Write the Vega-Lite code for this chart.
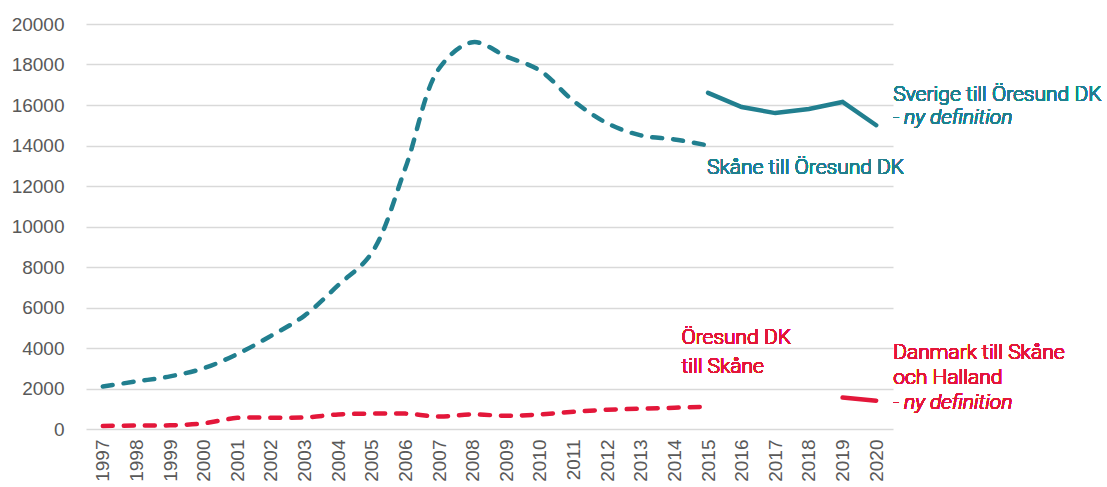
{
  "$schema": "https://vega.github.io/schema/vega-lite/v6.json",
  "width": 807,
  "height": 405,
  "autosize": {"type": "none"},
  "padding": {"left": 86, "top": 24, "right": 214, "bottom": 58},
  "background": "white",
  "config": {
    "view": {"stroke": null},
    "axis": {"labelFont": "Liberation Sans", "labelColor": "#595959", "labelFontSize": 19, "domain": false, "ticks": false, "title": null},
    "text": {"font": "Roboto", "fontSize": 21, "fontWeight": 300, "align": "left", "baseline": "middle"}
  },
  "data": {
    "values": [
      {"year": 1997, "value": 2100, "series": "skane_dk"},
      {"year": 1998, "value": 2350, "series": "skane_dk"},
      {"year": 1999, "value": 2600, "series": "skane_dk"},
      {"year": 2000, "value": 3000, "series": "skane_dk"},
      {"year": 2001, "value": 3700, "series": "skane_dk"},
      {"year": 2002, "value": 4600, "series": "skane_dk"},
      {"year": 2003, "value": 5600, "series": "skane_dk"},
      {"year": 2004, "value": 7100, "series": "skane_dk"},
      {"year": 2005, "value": 8700, "series": "skane_dk"},
      {"year": 2006, "value": 12900, "series": "skane_dk"},
      {"year": 2007, "value": 17800, "series": "skane_dk"},
      {"year": 2008, "value": 19100, "series": "skane_dk"},
      {"year": 2009, "value": 18400, "series": "skane_dk"},
      {"year": 2010, "value": 17700, "series": "skane_dk"},
      {"year": 2011, "value": 16200, "series": "skane_dk"},
      {"year": 2012, "value": 15100, "series": "skane_dk"},
      {"year": 2013, "value": 14500, "series": "skane_dk"},
      {"year": 2014, "value": 14300, "series": "skane_dk"},
      {"year": 2015, "value": 14000, "series": "skane_dk"},
      {"year": 2015, "value": 16600, "series": "sverige_dk"},
      {"year": 2016, "value": 15900, "series": "sverige_dk"},
      {"year": 2017, "value": 15600, "series": "sverige_dk"},
      {"year": 2018, "value": 15800, "series": "sverige_dk"},
      {"year": 2019, "value": 16150, "series": "sverige_dk"},
      {"year": 2020, "value": 15000, "series": "sverige_dk"},
      {"year": 1997, "value": 150, "series": "dk_skane"},
      {"year": 1998, "value": 170, "series": "dk_skane"},
      {"year": 1999, "value": 180, "series": "dk_skane"},
      {"year": 2000, "value": 280, "series": "dk_skane"},
      {"year": 2001, "value": 550, "series": "dk_skane"},
      {"year": 2002, "value": 560, "series": "dk_skane"},
      {"year": 2003, "value": 570, "series": "dk_skane"},
      {"year": 2004, "value": 720, "series": "dk_skane"},
      {"year": 2005, "value": 760, "series": "dk_skane"},
      {"year": 2006, "value": 760, "series": "dk_skane"},
      {"year": 2007, "value": 620, "series": "dk_skane"},
      {"year": 2008, "value": 720, "series": "dk_skane"},
      {"year": 2009, "value": 650, "series": "dk_skane"},
      {"year": 2010, "value": 720, "series": "dk_skane"},
      {"year": 2011, "value": 850, "series": "dk_skane"},
      {"year": 2012, "value": 950, "series": "dk_skane"},
      {"year": 2013, "value": 1000, "series": "dk_skane"},
      {"year": 2014, "value": 1050, "series": "dk_skane"},
      {"year": 2015, "value": 1100, "series": "dk_skane"},
      {"year": 2019, "value": 1550, "series": "dk_skane_halland"},
      {"year": 2020, "value": 1400, "series": "dk_skane_halland"}
    ]
  },
  "encoding": {
    "x": {
      "field": "year", "type": "ordinal",
      "scale": {"domain": [1997,1998,1999,2000,2001,2002,2003,2004,2005,2006,2007,2008,2009,2010,2011,2012,2013,2014,2015,2016,2017,2018,2019,2020]},
      "axis": {"labelAngle": -90, "labelPadding": 10, "grid": false}
    },
    "y": {
      "field": "value", "type": "quantitative",
      "scale": {"domain": [0, 20000]},
      "axis": {"values": [0,2000,4000,6000,8000,10000,12000,14000,16000,18000,20000], "format": "d", "labelPadding": 22, "gridColor": "#d9d9d9", "gridWidth": 1.5}
    }
  },
  "layer": [
    {
      "transform": [{"filter": "datum.series === 'skane_dk' || datum.series === 'dk_skane'"}],
      "mark": {"type": "line", "interpolate": "catmull-rom", "strokeWidth": 4.5, "strokeDash": [10, 11], "strokeCap": "round"},
      "encoding": {
        "color": {"field": "series", "type": "nominal", "scale": {"domain": ["skane_dk", "sverige_dk", "dk_skane", "dk_skane_halland"], "range": ["#217f8f", "#217f8f", "#e3173a", "#e3173a"]}, "legend": null}
      }
    },
    {
      "transform": [{"filter": "datum.series === 'sverige_dk' || datum.series === 'dk_skane_halland'"}],
      "mark": {"type": "line", "strokeWidth": 4.5, "strokeCap": "round"},
      "encoding": {
        "color": {"field": "series", "type": "nominal", "legend": null}
      }
    },
    {
      "mark": {"type": "text", "text": "Sverige till Öresund DK", "dx": 17, "color": "#217f8f"},
      "encoding": {"x": {"datum": 2020}, "y": {"datum": 16494}}
    },
    {
      "mark": {"type": "text", "text": "- ny definition", "dx": 17, "fontStyle": "italic", "color": "#217f8f"},
      "encoding": {"x": {"datum": 2020}, "y": {"datum": 15358}}
    },
    {
      "mark": {"type": "text", "text": "Skåne till Öresund DK", "dx": -1, "color": "#217f8f"},
      "encoding": {"x": {"datum": 2015}, "y": {"datum": 12889}}
    },
    {
      "mark": {"type": "text", "text": "Öresund DK", "dx": 7, "color": "#e3173a"},
      "encoding": {"x": {"datum": 2014}, "y": {"datum": 4494}}
    },
    {
      "mark": {"type": "text", "text": "till Skåne", "dx": 7, "color": "#e3173a"},
      "encoding": {"x": {"datum": 2014}, "y": {"datum": 3062}}
    },
    {
      "mark": {"type": "text", "text": "Danmark till Skåne", "dx": 17, "color": "#e3173a"},
      "encoding": {"x": {"datum": 2020}, "y": {"datum": 3753}}
    },
    {
      "mark": {"type": "text", "text": "och Halland", "dx": 17, "color": "#e3173a"},
      "encoding": {"x": {"datum": 2020}, "y": {"datum": 2519}}
    },
    {
      "mark": {"type": "text", "text": "- ny definition", "dx": 17, "fontStyle": "italic", "color": "#e3173a"},
      "encoding": {"x": {"datum": 2020}, "y": {"datum": 1284}}
    }
  ]
}
